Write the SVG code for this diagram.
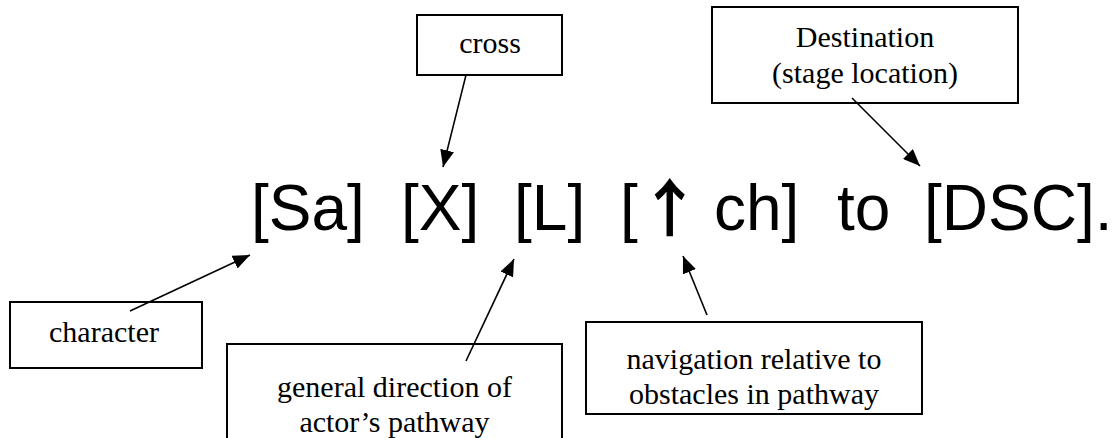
<svg xmlns="http://www.w3.org/2000/svg" width="1113" height="438" viewBox="0 0 1113 438">
<style>
.box{fill:#fff;stroke:#000;stroke-width:2}
.lbl{font-family:"Liberation Serif","Times New Roman",serif;font-size:30px;fill:#000;text-anchor:middle}
.main{font-family:"Liberation Sans",Arial,sans-serif;font-size:64px;fill:#000}
.arr{font-family:"Noto Sans CJK JP","Noto Sans CJK SC",sans-serif;font-size:63px;font-weight:700}
.con{stroke:#000;stroke-width:1.6;fill:none;marker-end:url(#ah)}
</style>
<defs>
<marker id="ah" markerUnits="userSpaceOnUse" markerWidth="18" markerHeight="14" refX="17" refY="7" orient="auto">
<path d="M0,0 L17,7 L0,14 z" fill="#000"/>
</marker>
</defs>
<rect width="1113" height="438" fill="#fff"/>
<g id="sentence">
<text class="main" y="230"><tspan x="251">[Sa]</tspan><tspan x="401">[X]</tspan><tspan x="514">[L]</tspan><tspan x="620">[<tspan class="arr" dx="0.5" dy="1">↑</tspan></tspan><tspan x="714" dy="-1">ch]</tspan><tspan x="837">to</tspan><tspan x="924">[DSC].</tspan></text>
</g>
<g id="node-cross">
<rect class="box" x="417" y="15" width="145" height="60"/>
<text class="lbl" x="490" y="53">cross</text>
</g>
<g id="node-destination">
<rect class="box" x="712" y="7" width="306" height="96"/>
<text class="lbl" x="865" y="47">Destination</text>
<text class="lbl" x="865" y="83">(stage location)</text>
</g>
<g id="node-character">
<rect class="box" x="10" y="302" width="192" height="66"/>
<text class="lbl" x="104" y="342">character</text>
</g>
<g id="node-general">
<rect class="box" x="227" y="344" width="335" height="120"/>
<text class="lbl" x="394.5" y="397">general direction of</text>
<text class="lbl" x="394.5" y="432">actor’s pathway</text>
</g>
<g id="node-navigation">
<rect class="box" x="586" y="322" width="336" height="92"/>
<text class="lbl" x="754" y="369">navigation relative to</text>
<text class="lbl" x="754" y="404">obstacles in pathway</text>
</g>
<g id="connectors">
<line class="con" x1="466" y1="75" x2="443" y2="167"/>
<line class="con" x1="852" y1="98" x2="920" y2="166"/>
<line class="con" x1="130" y1="311" x2="250" y2="255"/>
<line class="con" x1="466" y1="361" x2="514" y2="259"/>
<line class="con" x1="707" y1="315" x2="683" y2="256"/>
</g>
</svg>
